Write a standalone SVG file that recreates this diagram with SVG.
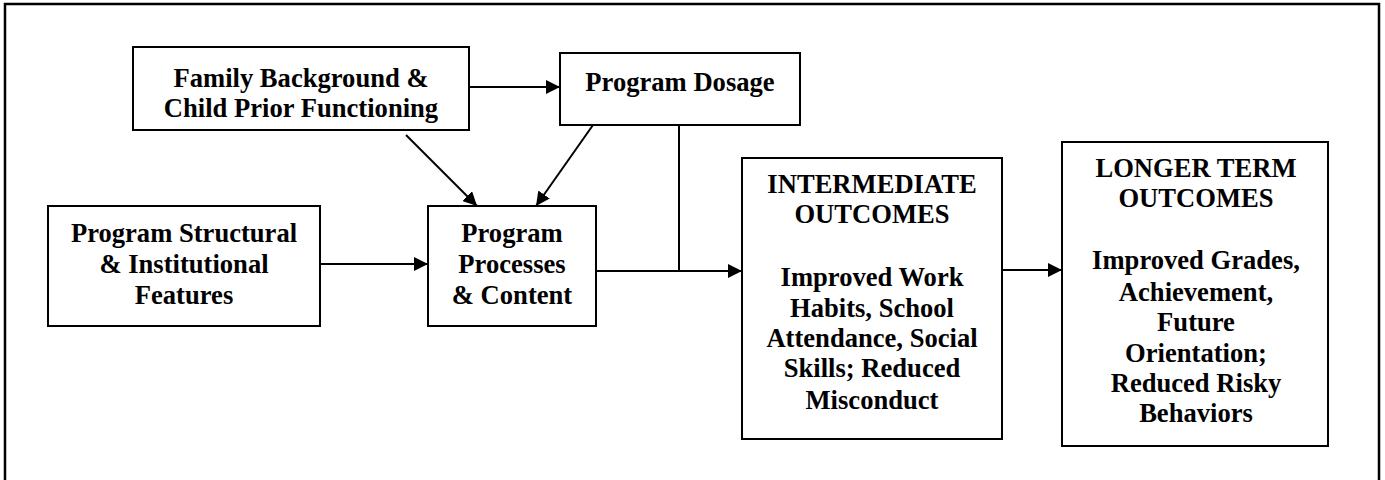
<svg xmlns="http://www.w3.org/2000/svg" width="1385" height="480" viewBox="0 0 1385 480">
<style>
.box{fill:#fff;stroke:#000;stroke-width:2}
.t{font-family:"Liberation Serif","Times New Roman",serif;font-weight:bold;font-size:28px;text-anchor:middle;fill:#000}
.c{fill:none;stroke:#000;stroke-width:2}
</style>
<defs>
<marker id="ah" markerUnits="userSpaceOnUse" markerWidth="16" markerHeight="14" refX="14" refY="7" orient="auto">
<path d="M0,0 L14,7 L0,14 Z" fill="#000"/>
</marker>
</defs>
<path d="M5,482 V4 H1379 V482" fill="none" stroke="#000" stroke-width="2.5"/>
<g id="connectors">
<line class="c" x1="469" y1="87" x2="560" y2="87" marker-end="url(#ah)"/>
<line class="c" x1="320" y1="264" x2="428" y2="264" marker-end="url(#ah)"/>
<line class="c" x1="406" y1="135" x2="477" y2="206" marker-end="url(#ah)"/>
<line class="c" x1="593" y1="125" x2="536" y2="206" marker-end="url(#ah)"/>
<line class="c" x1="679" y1="125" x2="679" y2="271"/>
<line class="c" x1="596" y1="271" x2="742" y2="271" marker-end="url(#ah)"/>
<line class="c" x1="1001" y1="270" x2="1062" y2="270" marker-end="url(#ah)"/>
</g>
<g id="family">
<rect class="box" x="133" y="47" width="336" height="83"/>
<g transform="translate(301,0) scale(0.95,1)">
<text class="t" x="0" y="87">Family Background &amp;</text>
<text class="t" x="0" y="117">Child Prior Functioning</text>
</g>
</g>
<g id="dosage">
<rect class="box" x="560" y="53" width="240" height="72"/>
<g transform="translate(680,0) scale(0.95,1)">
<text class="t" x="0" y="91">Program Dosage</text>
</g>
</g>
<g id="structural">
<rect class="box" x="48" y="206" width="272" height="120"/>
<g transform="translate(184,0) scale(0.95,1)">
<text class="t" x="0" y="242">Program Structural</text>
<text class="t" x="0" y="273">&amp; Institutional</text>
<text class="t" x="0" y="304">Features</text>
</g>
</g>
<g id="processes">
<rect class="box" x="428" y="206" width="168" height="120"/>
<g transform="translate(512,0) scale(0.95,1)">
<text class="t" x="0" y="242">Program</text>
<text class="t" x="0" y="273">Processes</text>
<text class="t" x="0" y="304">&amp; Content</text>
</g>
</g>
<g id="intermediate">
<rect class="box" x="742" y="158" width="260" height="281"/>
<g transform="translate(872,0) scale(0.95,1)">
<text class="t" x="0" y="193">INTERMEDIATE</text>
<text class="t" x="0" y="223">OUTCOMES</text>
<text class="t" x="0" y="286">Improved Work</text>
<text class="t" x="0" y="317">Habits, School</text>
<text class="t" x="0" y="347">Attendance, Social</text>
<text class="t" x="0" y="377">Skills; Reduced</text>
<text class="t" x="0" y="409">Misconduct</text>
</g>
</g>
<g id="longer">
<rect class="box" x="1062" y="142" width="266" height="304"/>
<g transform="translate(1196,0) scale(0.95,1)">
<text class="t" x="0" y="177">LONGER TERM</text>
<text class="t" x="0" y="207">OUTCOMES</text>
<text class="t" x="0" y="269">Improved Grades,</text>
<text class="t" x="0" y="301">Achievement,</text>
<text class="t" x="0" y="331">Future</text>
<text class="t" x="0" y="362">Orientation;</text>
<text class="t" x="0" y="392">Reduced Risky</text>
<text class="t" x="0" y="422">Behaviors</text>
</g>
</g>
</svg>
